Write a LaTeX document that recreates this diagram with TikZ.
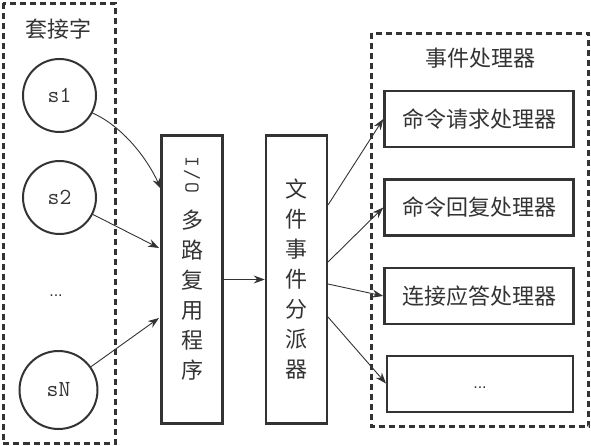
\documentclass[tikz,border=0pt]{standalone}
\usepackage{fontspec}
\newfontfamily\cjk{Noto Sans CJK SC}
\newfontfamily\lmmono{Latin Modern Mono}
\newfontfamily\dotfont{Liberation Sans}
\usetikzlibrary{arrows.meta}
\definecolor{ink}{HTML}{333333}
\begin{document}
\begin{tikzpicture}[x=1pt,y=-1pt,
 dashbox/.style={draw=ink, line width=3pt, dash pattern=on 6pt off 4pt},
 sock/.style={circle, draw=ink, line width=2pt, inner sep=0pt, font=\lmmono\fontsize{23}{23}\selectfont, text=ink},
 tallbox/.style={draw=ink, line width=2.5pt, minimum width=61pt, minimum height=288pt, inner sep=0pt},
 handler/.style={draw=ink, line width=2.5pt, minimum width=189pt, minimum height=56pt, inner sep=0pt, font=\cjk\fontsize{22}{22}\selectfont, text=ink},
 title/.style={font=\cjk\fontsize{22}{22}\selectfont, text=ink},
 vtext/.style={align=center, font=\cjk\fontsize{22}{30}\selectfont, text=ink, inner sep=0pt},
 dots/.style={font=\dotfont\fontsize{16}{16}\selectfont, text=ink, inner sep=0pt},
 conn/.style={draw=ink, line width=0.9pt, -{Stealth[length=11pt,width=8pt]}},
]
\useasboundingbox (0,0) rectangle (591,446);
% left group
\draw[dashbox] (3,3.5) rectangle (115,443);
\node[title] (socktitle) at (58,29) {套接字};
\node[sock, minimum size=73pt] (s1) at (59.5,95.5) {s1};
\node[sock, minimum size=73pt] (s2) at (59.5,197.5) {s2};
\node[dots] (sdots) at (56,296) {...};
\node[sock, minimum size=78pt] (sN) at (58.5,390) {sN};
% multiplexer
\node[tallbox] (io) at (192,279.5) {};
\node[text=ink, font=\lmmono\fontsize{21}{21}\selectfont, rotate=-90, inner sep=0pt] (iolabel) at (192,175) {I\kern2.5pt/\kern2.5pt O};
\node[vtext] (iotext) at (192,295) {多\\路\\复\\用\\程\\序};
% dispatcher
\node[tallbox, vtext, inner sep=0pt] (disp) at (296.5,279.5) {文\\件\\事\\件\\分\\派\\器};
% handlers
\draw[dashbox] (371.5,33.5) rectangle (588.5,426.5);
\node[title] (htitle) at (480,58) {事件处理器};
\node[handler] (h1) at (479,119) {命令请求处理器};
\node[handler] (h2) at (479,207.5) {命令回复处理器};
\node[handler] (h3) at (479,296) {连接应答处理器};
\node[handler, line width=2pt, minimum width=186pt] (h4) at (480,383.5) {};
\node[dots] (hdots) at (480,388) {...};
% connectors
\coordinate (e1) at (161,189);
\coordinate (e2) at (159,248);
\coordinate (e3) at (159,318);
\draw[conn] (s1.-28) .. controls (122,126) and (147,158) .. (e1);
\draw[conn] (s2) -- (e2);
\draw[conn] (sN) -- (e3);
\draw[conn] (io) -- (disp);
\coordinate (d1) at (328,205);
\coordinate (d2) at (328,262);
\coordinate (d3) at (328,284);
\coordinate (d4) at (328,317);
\draw[conn] (d1) -- (h1.west);
\draw[conn] (d2) -- (h2.west);
\draw[conn] (d3) -- (h3.west);
\draw[conn] (d4) -- (h4.west);
\end{tikzpicture}
\end{document}
